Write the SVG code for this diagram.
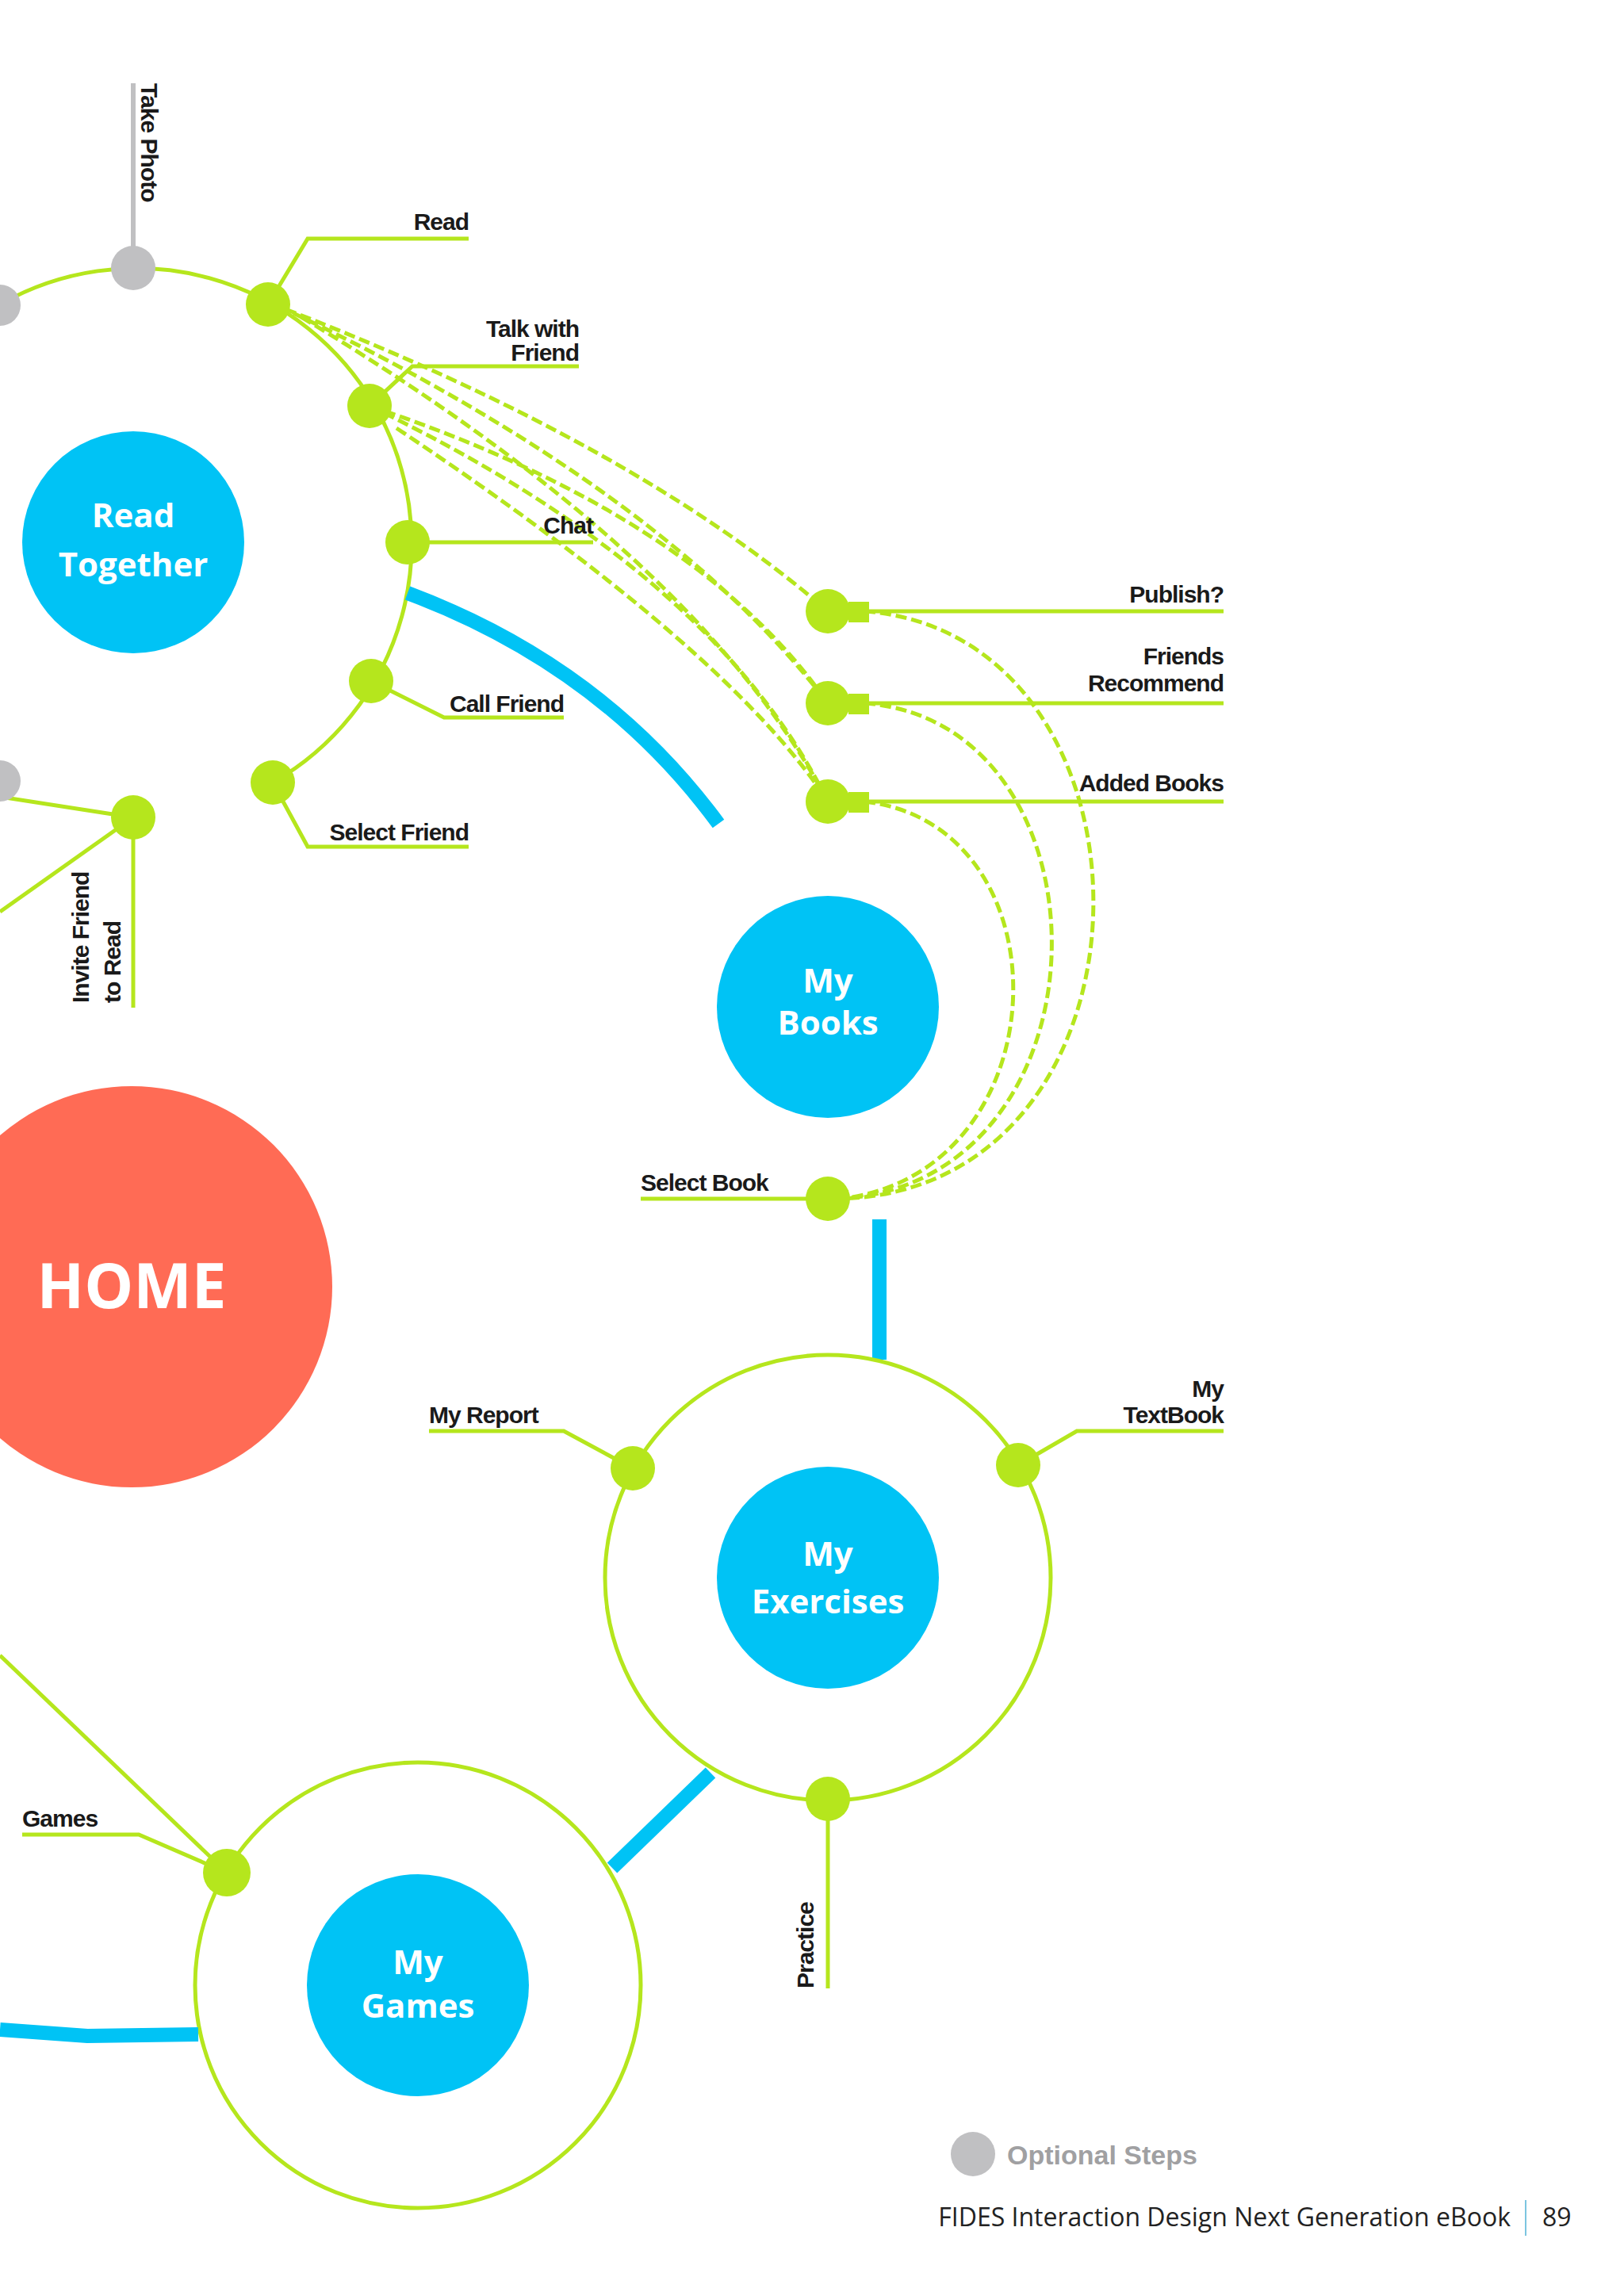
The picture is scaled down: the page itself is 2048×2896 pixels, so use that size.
<svg xmlns="http://www.w3.org/2000/svg" width="2048" height="2896" viewBox="0 0 2048 2896">
<style>
.g{fill:none;stroke:#b5e61d;stroke-width:5}
.d{fill:none;stroke:#b5e61d;stroke-width:5;stroke-dasharray:14 6}
.b{fill:none;stroke:#00c3f5;stroke-width:18}
.n{fill:#b5e61d}
.o{fill:#c0c0c2}
.c{fill:#00c3f5}
.l{font-family:"Liberation Sans",Arial,sans-serif;font-weight:bold;font-size:30px;fill:#1a1a1a;letter-spacing:-1px}
.w{font-family:"Open Sans","Liberation Sans",sans-serif;font-weight:bold;fill:#fff;text-anchor:middle}
</style>
<rect width="2048" height="2896" fill="#fff"/>
<g id="connectors">
<path class="g" d="M0,384 A344,344 0 0 1 344,987"/>
<line x1="168" y1="338" x2="168" y2="105" stroke="#c0c0c2" stroke-width="6"/>
<polyline class="g" points="338,384 388,301 591,301"/>
<polyline class="g" points="466,512 520,462 730,462"/>
<line class="g" x1="514" y1="684" x2="748" y2="684" stroke="#9ccf4a"/>
<polyline class="g" points="468,859 560,905 711,905"/>
<polyline class="g" points="344,987 388,1068 591,1068"/>
<path class="b" d="M514,748 Q760,840 906,1039"/>
<line class="g" x1="0" y1="1005" x2="168" y2="1031"/>
<line class="g" x1="168" y1="1031" x2="168" y2="1271"/>
<line class="g" x1="168" y1="1031" x2="0" y2="1150"/>
<line class="g" x1="1090" y1="771" x2="1543" y2="771"/>
<line class="g" x1="1090" y1="887" x2="1543" y2="887"/>
<line class="g" x1="1090" y1="1011" x2="1543" y2="1011"/>
<path class="d" d="M360,390 Q800,560 1044,771"/>
<path class="d" d="M370,395 Q840,620 1044,887"/>
<path class="d" d="M380,400 Q880,700 1044,1011"/>
<path class="d" d="M466,512 Q880,650 1044,887"/>
<path class="d" d="M466,512 Q900,720 1044,1011"/>
<path class="d" d="M500,540 Q920,820 1044,1011"/>
<path class="d" d="M1090,771 C1480,800 1480,1500 1060,1512"/>
<path class="d" d="M1090,887 C1410,910 1410,1490 1060,1512"/>
<path class="d" d="M1090,1011 C1350,1040 1340,1480 1060,1512"/>
<line class="g" x1="808" y1="1512" x2="1044" y2="1512"/>
<line class="b" x1="1109" y1="1538" x2="1109" y2="1715"/>
<circle class="g" cx="1044" cy="1990" r="281"/>
<polyline class="g" points="798,1852 711,1805 541,1805"/>
<polyline class="g" points="1284,1848 1358,1805 1543,1805"/>
<line class="g" x1="1044" y1="2269" x2="1044" y2="2508"/>
<line class="b" x1="896" y1="2236" x2="772" y2="2356"/>
<circle class="g" cx="527" cy="2504" r="281"/>
<polyline class="g" points="286,2362 175,2314 28,2314"/>
<line class="g" x1="286" y1="2362" x2="0" y2="2088"/>
<polyline class="b" points="0,2560 110,2568 250,2566"/>
</g>
<g id="home"><circle cx="166" cy="1623" r="253" fill="#ff6b55"/><text class="w" x="166" y="1650" font-size="78">HOME</text></g>
<g id="read-together"><circle class="c" cx="168" cy="684" r="140"/><text class="w" x="168" y="665" font-size="42">Read</text><text class="w" x="168" y="727" font-size="42">Together</text></g>
<g id="my-books"><circle class="c" cx="1044" cy="1270" r="140"/><text class="w" x="1044" y="1252" font-size="42">My</text><text class="w" x="1044" y="1305" font-size="42">Books</text></g>
<g id="my-exercises"><circle class="c" cx="1044" cy="1990" r="140"/><text class="w" x="1044" y="1975" font-size="42">My</text><text class="w" x="1044" y="2035" font-size="42">Exercises</text></g>
<g id="my-games"><circle class="c" cx="527" cy="2504" r="140"/><text class="w" x="527" y="2490" font-size="42">My</text><text class="w" x="527" y="2545" font-size="42">Games</text></g>
<g id="nodes">
<circle class="o" cx="168" cy="338" r="28"/><circle class="o" cx="0" cy="385" r="26"/><circle class="o" cx="0" cy="985" r="26"/>
<circle class="n" cx="338" cy="384" r="28"/><circle class="n" cx="466" cy="512" r="28"/><circle class="n" cx="514" cy="684" r="28"/>
<circle class="n" cx="468" cy="859" r="28"/><circle class="n" cx="344" cy="987" r="28"/><circle class="n" cx="168" cy="1031" r="28"/>
<circle class="n" cx="1044" cy="771" r="28"/><rect class="n" x="1070" y="759" width="26" height="26"/>
<circle class="n" cx="1044" cy="887" r="28"/><rect class="n" x="1070" y="875" width="26" height="26"/>
<circle class="n" cx="1044" cy="1011" r="28"/><rect class="n" x="1070" y="999" width="26" height="26"/>
<circle class="n" cx="1044" cy="1512" r="28"/>
<circle class="n" cx="798" cy="1852" r="28"/><circle class="n" cx="1284" cy="1848" r="28"/><circle class="n" cx="1044" cy="2269" r="28"/>
<circle class="n" cx="286" cy="2362" r="30"/>
</g>
<g id="labels">
<text class="l" x="591" y="290" text-anchor="end">Read</text>
<text class="l" x="730" y="425" text-anchor="end">Talk with</text>
<text class="l" x="730" y="455" text-anchor="end">Friend</text>
<text class="l" x="748" y="673" text-anchor="end">Chat</text>
<text class="l" x="711" y="898" text-anchor="end">Call Friend</text>
<text class="l" x="591" y="1060" text-anchor="end">Select Friend</text>
<text class="l" x="1543" y="760" text-anchor="end">Publish?</text>
<text class="l" x="1543" y="838" text-anchor="end">Friends</text>
<text class="l" x="1543" y="872" text-anchor="end">Recommend</text>
<text class="l" x="1543" y="998" text-anchor="end">Added Books</text>
<text class="l" x="808" y="1502">Select Book</text>
<text class="l" x="541" y="1795">My Report</text>
<text class="l" x="1543" y="1762" text-anchor="end">My</text>
<text class="l" x="1543" y="1795" text-anchor="end">TextBook</text>
<text class="l" x="28" y="2304">Games</text>
<text class="l" transform="translate(1026,2508) rotate(-90)">Practice</text>
<text class="l" transform="translate(112,1265) rotate(-90)">Invite Friend</text>
<text class="l" transform="translate(152,1265) rotate(-90)">to Read</text>
<text class="l" transform="translate(178,105) rotate(90)" fill="#888">Take Photo</text>
</g>
<g id="legend">
<circle class="o" cx="1227" cy="2717" r="28"/>
<text x="1270" y="2730" font-family="Liberation Sans,Arial,sans-serif" font-weight="bold" font-size="34" fill="#a0a0a2">Optional Steps</text>
</g>
<g id="footer">
<text x="1905" y="2808" text-anchor="end" font-family="Open Sans,sans-serif" font-size="32" fill="#222">FIDES Interaction Design   Next Generation eBook</text>
<line x1="1924" y1="2775" x2="1924" y2="2820" stroke="#7cc5e0" stroke-width="2"/>
<text x="1945" y="2808" font-family="Open Sans,sans-serif" font-size="32" fill="#222">89</text>
</g>
</svg>
